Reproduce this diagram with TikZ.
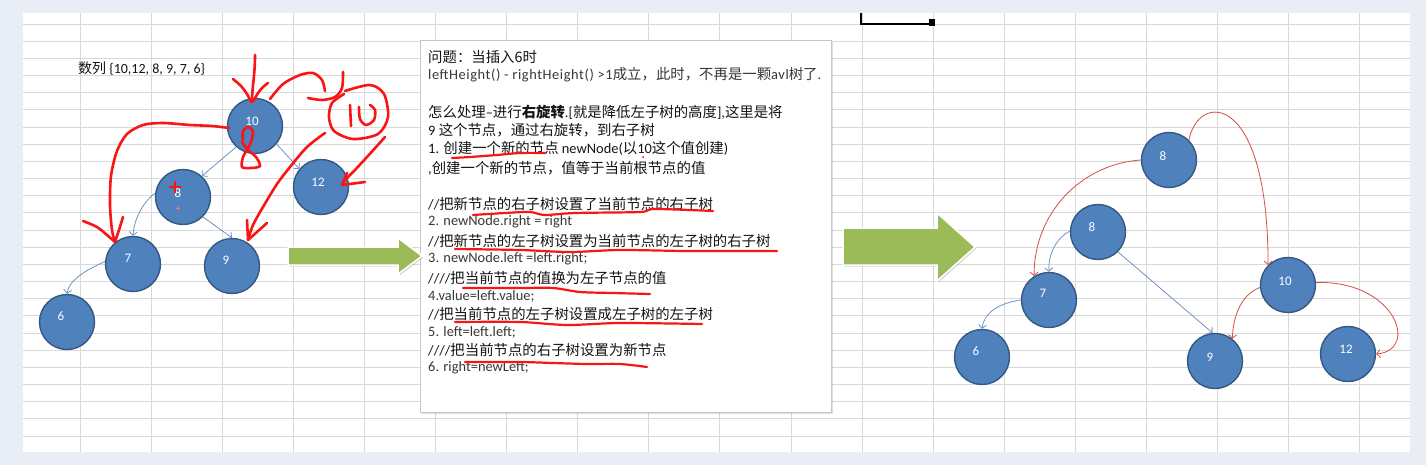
\documentclass[tikz,border=0pt]{standalone}
\usepackage{fontspec}
\setmainfont{Carlito}
\newfontfamily\cjk{Noto Sans CJK SC}
\usetikzlibrary{arrows.meta,shadows,calc}
\newcommand\zh[1]{{\cjk\fontsize{14.4}{14.4}\selectfont #1}}
\newcommand\en[1]{{\fontsize{14.4}{14.4}\selectfont #1}}
\definecolor{bgblue}{RGB}{233,238,246}
\definecolor{gridc}{RGB}{216,216,216}
\definecolor{ballfill}{RGB}{79,129,189}
\definecolor{balldraw}{RGB}{52,88,132}
\definecolor{edgeblue}{RGB}{112,146,196}
\definecolor{edgered}{RGB}{214,78,68}
\definecolor{ink}{RGB}{250,20,20}
\definecolor{olivec}{RGB}{155,187,89}
\definecolor{txtc}{RGB}{20,20,20}
\definecolor{entxt}{RGB}{55,55,55}
\begin{document}
\begin{tikzpicture}[x=1pt,y=-1pt,
  ball/.style={circle, draw=balldraw, line width=1.4pt, fill=ballfill, minimum size=55pt, inner sep=0pt},
  lbl/.style={text=white, font=\fontsize{13}{13}\selectfont, inner sep=0pt},
  bedge/.style={draw=edgeblue, line width=0.8pt, -{Straight Barb[length=3.5pt,width=8pt]}},
  redge/.style={draw=edgered, line width=0.8pt, -{Straight Barb[length=3.5pt,width=8pt]}},
  inkpen/.style={draw=ink, line width=2.6pt, line cap=round, line join=round},
  inkline/.style={draw=ink, line width=2.2pt, line cap=round, line join=round},
  zhline/.style={anchor=west, inner sep=0pt, text=txtc, font=\fontsize{14.4}{14.4}\selectfont},
  enline/.style={anchor=west, inner sep=0pt, text=entxt, font=\fontsize{14.4}{14.4}\selectfont},
  blockarrow/.style={fill=olivec, draw=white, line width=1.5pt, drop shadow={opacity=0.3, shadow xshift=1.5pt, shadow yshift=-1.5pt}},
]
% background and sheet
\fill[bgblue] (0,0) rectangle (1426,465);
\fill[white] (23,13) rectangle (1410,452);
\foreach \i in {0,...,18} \draw[gridc, line width=0.9pt] ({80+71.1*\i},13) -- ({80+71.1*\i},452);
\foreach \j in {0,...,24} \draw[gridc, line width=0.9pt] (23,{24+17.17*\j}) -- (1410,{24+17.17*\j});
\useasboundingbox (0,0) rectangle (1426,465);

% selection mark at top
\draw[line width=1.6pt] (861,13) -- (861,24) -- (932,24);
\fill (929,19) rectangle (935,26);

% sequence label
\node[anchor=west, inner sep=0pt, text=txtc, font=\fontsize{14}{14}\selectfont] (seq) at (78,69) {{\cjk 数列} \{10,12, 8, 9, 7, 6\}};

% ---------------- left tree ----------------
\node[ball, label={[lbl,xshift=-3pt,yshift=5pt]center:10}] (A10) at (255,126) {};
\node[ball, label={[lbl,xshift=-5pt,yshift=4pt]center:8}] (A8) at (183,197) {};
\node[ball, label={[lbl,xshift=-3pt,yshift=5pt]center:12}] (A12) at (321,187) {};
\node[ball, label={[lbl,xshift=-5pt,yshift=6pt]center:7}] (A7) at (133,264) {};
\node[ball, label={[lbl,xshift=-6pt,yshift=6pt]center:9}] (A9) at (232,266) {};
\node[ball, label={[lbl,xshift=-6pt,yshift=6pt]center:6}] (A6) at (67,322) {};

\draw[bedge] (A10.228) -- (A8.48);
\draw[bedge] (A10.-40) -- (A12.140);
\draw[bedge] (A8.172) .. controls (142,203) and (134,220) .. (A7.90);
\draw[bedge] (A8.-45) -- (A9.90);
\draw[bedge] (A7.175) .. controls (86,270) and (69,280) .. (A6.90);

% ---------------- text box ----------------
\node[draw=gray!45, fill=white, line width=0.8pt, drop shadow={opacity=0.25, shadow xshift=2pt, shadow yshift=-2pt}, minimum width=411pt, minimum height=372pt, anchor=north west, inner sep=0pt] (box) at (420,40) {};

\node[zhline] (t1) at (428,57) {\zh{问题：当插入6时}};
\node[enline] (t2) at (428,75) {\addfontfeature{LetterSpace=4}leftHeight() - rightHeight() >1\zh{成立，此时，不再是一颗}avl\zh{树了}.};
\node[zhline] (t3) at (428,112) {\zh{怎么处理}--\zh{进行}{\cjk\bfseries 右旋转}.[\zh{就是降低左子树的高度}],\zh{这里是将}};
\node[zhline] (t4) at (428,130) {9 \zh{这个节点，通过右旋转，到右子树}};
\node[zhline] (t5) at (428,148) {\en{1. }\zh{创建一个新的节点} \en{newNode(}\zh{以}10\zh{这个值创建})};
\node[zhline] (t6) at (428,168) {,\zh{创建一个新的节点，值等于当前根节点的值}};
\node[zhline] (t7) at (428,204) {//\zh{把新节点的右子树设置了当前节点的右子树}};
\node[enline] (t8) at (428,222) {2. newNode.right = right};
\node[zhline] (t9) at (428,241) {//\zh{把新节点的左子树设置为当前节点的左子树的右子树}};
\node[enline] (t10) at (428,259) {3. newNode.left =left.right;};
\node[zhline] (t11) at (428,278) {////\zh{把当前节点的值换为左子节点的值}};
\node[enline] (t12) at (428,296) {4.value=left.value;};
\node[zhline] (t13) at (428,314) {//\zh{把当前节点的左子树设置成左子树的左子树}};
\node[enline] (t14) at (428,332) {5. left=left.left;};
\node[zhline] (t15) at (428,350) {////\zh{把当前节点的右子树设置为新节点}};
\node[enline] (t16) at (428,368) {6. right=newLeft;};

% ---------------- green arrows ----------------
\path[blockarrow] (288,247) -- (398,247) -- (398,238) -- (422,256) -- (398,274) -- (398,265) -- (288,265) -- cycle;
\path[blockarrow] (843,228) -- (937,228) -- (937,213) -- (975,247) -- (937,281) -- (937,265) -- (843,265) -- cycle;

% ---------------- right tree ----------------
\node[ball, label={[lbl,xshift=-6pt,yshift=4pt]center:8}] (B8t) at (1169,160) {};
\node[ball, label={[lbl,xshift=-6pt,yshift=5pt]center:8}] (B8) at (1098,232) {};
\node[ball, label={[lbl,xshift=-6pt,yshift=7pt]center:7}] (B7) at (1049,300) {};
\node[ball, label={[lbl,xshift=-6pt,yshift=6pt]center:6}] (B6) at (982,357) {};
\node[ball, label={[lbl,xshift=-5pt,yshift=4pt]center:9}] (B9) at (1215,361) {};
\node[ball, label={[lbl,xshift=-3pt,yshift=4pt]center:10}] (B10) at (1288,285) {};
\node[ball, label={[lbl,xshift=-2pt,yshift=5pt]center:12}] (B12) at (1348,354) {};

\draw[bedge] (B8.178) .. controls (1056,238) and (1048,255) .. (B7.90);
\draw[bedge] (B8.-45) -- (B9.95);
\draw[bedge] (B7.180) .. controls (1000,303) and (984,312) .. (B6.90);

\draw[redge] (B8t.180) .. controls (1082,164) and (1034,212) .. (B7.122);
\draw[redge] (B8t.45) .. controls (1198,92) and (1268,90) .. (B10.135);
\draw[redge] (B10.185) .. controls (1240,295) and (1233,318) .. (B9.52);
\draw[redge] (B10.5) .. controls (1395,280) and (1420,350) .. (B12.0);

% ---------------- red freehand annotations ----------------
% arrow down into 10
\draw[inkpen] (255,55) .. controls (255,75) and (252,88) .. (252,101);
\draw[inkpen] plot[smooth] coordinates {(233,79) (241,86) (247,94) (252,102) (258,93) (263,87) (268,83)};
% loop over top-right of 10
\draw[inkpen] plot[smooth] coordinates {(270,99) (283,84) (300,75) (313,73) (322,80) (325,91)};
\draw[inkpen] plot[smooth] coordinates {(308,98) (322,100) (335,97) (342,88) (343,72)};
% circled "10"
\draw[inkpen] plot[smooth] coordinates {(345,91) (370,85) (384,94) (388,117) (378,134) (353,139) (334,131) (329,117) (332,103) (344,94)};
\draw[inkpen] (350,105) -- (351,126);
\draw[inkpen] plot[smooth] coordinates {(359,107) (360,119) (366,125) (374,120) (375,110) (370,105)};
% big arc from 10 to 7
\draw[inkpen] plot[smooth] coordinates {(229,128) (212,126) (190,125) (163,123) (143,125) (127,134) (117,151) (111,176) (110,205) (112,230) (115,242)};
\draw[inkpen] plot[smooth] coordinates {(83,221) (97,227) (107,235) (115,242)};
\draw[inkpen] plot[smooth] coordinates {(123,217) (119,230) (115,242)};
% arc from circled 10 to 9
\draw[inkpen] plot[smooth] coordinates {(325,133) (307,147) (290,167) (277,184) (263,207) (253,225) (248,240)};
\draw[inkpen] (247,220) -- (248,240) -- (267,223);
% arrow to 12
\draw[inkpen] plot[smooth] coordinates {(385,137) (367,157) (354,171) (344,181)};
\draw[inkpen] (347,173) -- (342,185) -- (365,182);
% "8" scribble on 10
\draw[inkpen] plot[smooth] coordinates {(243,140) (243,131) (248,127) (253,131) (251,142) (247,150) (243,157) (242,167) (251,168) (260,166) (256,157) (248,150) (242,142)};
% small crosses on 8
\draw[ink, line width=1.4pt] (169,187) -- (181,187) (175,181) -- (175,193);
\draw[ink!60, line width=0.8pt] (176,208) -- (180,208) (178,206) -- (178,210);
% red dot in text
\fill[ink] (643,157) circle (1pt);
% underlines
\draw[inkline] plot[smooth] coordinates {(452,158) (470,157) (497,155) (520,153) (545,153)};
\draw[inkline] plot[smooth] coordinates {(473,215) (505,213) (530,212) (545,215) (575,213) (640,212) (655,209) (713,211)};
\draw[inkline] plot[smooth] coordinates {(455,249) (520,250) (570,252) (620,250) (687,251) (777,251)};
\draw[inkline] plot[smooth] coordinates {(463,288) (520,288) (553,288) (580,292) (613,293) (650,294)};
\draw[inkline] plot[smooth] coordinates {(455,322) (520,322) (567,325) (620,323) (702,324)};
\draw[inkline] plot[smooth] coordinates {(465,362) (520,362) (553,363) (587,364) (620,364) (647,367)};
\end{tikzpicture}
\end{document}
